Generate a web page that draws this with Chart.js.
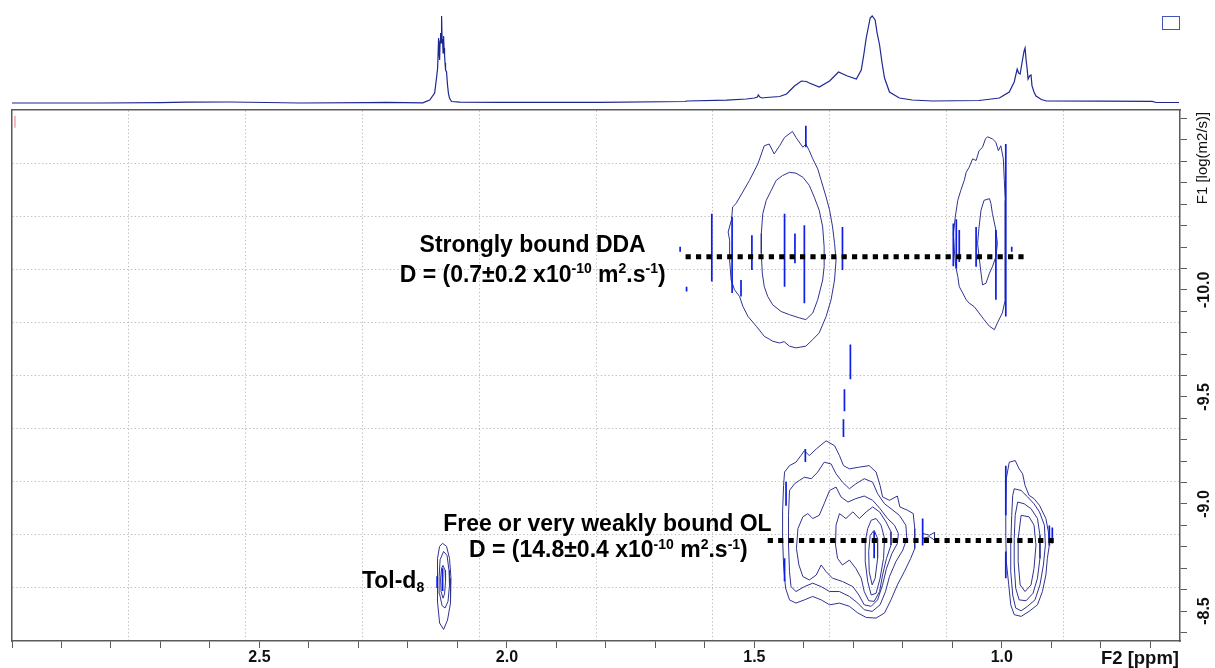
<!DOCTYPE html>
<html>
<head>
<meta charset="utf-8">
<script src="https://cdn.jsdelivr.net/npm/chart.js@4.4.0/dist/chart.umd.min.js"></script>
<style>
  html, body { margin: 0; padding: 0; background: #fff; }
  #wrap { position: relative; width: 1215px; height: 668px; overflow: hidden; }
  #spec { position: absolute; left: 0; top: 0; }
  #dosy { position: absolute; left: 0; top: 109px; }
</style>
</head>
<body>
<div id="wrap">
  <canvas id="spec" width="1215" height="109"></canvas>
  <canvas id="dosy" width="1215" height="559"></canvas>
</div>
<script>
// ---- axis limits and labelled ticks ----
const f2Range = [0.64, 3.0];          // chemical shift, ppm (drawn high -> low)
const f1Range = [-10.84, -8.36];      // log D, log(m2/s)
const f2Labels = [1.0, 1.5, 2.0, 2.5];
const f1Labels = [-10.0, -9.5, -9.0, -8.5];

// ---- 1D projection on top: [ppm, intensity (a.u.)] ----
const projection = [
  [3.000,0],[2.822,0],[2.700,0.3],[2.647,0.8],[2.560,1],[2.485,0.5],[2.419,0],[2.283,0.3],[2.243,0.6],
  [2.170,0.2],[2.156,3],[2.146,10],[2.142,26],[2.140,35],[2.138,65],[2.137,50],[2.136,43],[2.135,62],
  [2.134,70],[2.133,60],[2.132,87],[2.131,64],[2.130,63],[2.129,50],[2.128,67],[2.127,55],[2.126,48],
  [2.125,40],[2.124,33],[2.122,31],[2.120,18],[2.118,9],[2.116,5],[2.112,1.5],[2.095,0.8],[2.015,0.6],
  [1.813,0.7],[1.640,1.5],[1.637,2],[1.556,2.8],[1.516,4],[1.500,5],[1.494,6],[1.492,8],[1.489,6],
  [1.484,5],[1.476,5.5],[1.449,6.5],[1.435,9],[1.419,17],[1.405,22],[1.395,21.5],[1.389,20],[1.369,16],
  [1.348,22],[1.330,31],[1.312,27],[1.294,24],[1.284,33],[1.279,48],[1.274,65],[1.266,85],[1.262,87],
  [1.256,83],[1.252,70],[1.247,58],[1.242,40],[1.237,25],[1.227,11],[1.207,5],[1.181,3],[1.141,2],
  [1.046,2.5],[1.005,5],[0.985,11],[0.975,21],[0.969,34],[0.966,30],[0.963,29],[0.959,41],[0.955,52],
  [0.953,55],[0.951,43],[0.949,35],[0.947,24],[0.944,27],[0.941,28],[0.939,17],[0.935,11],[0.931,7],
  [0.920,3.5],[0.910,2],[0.800,1.8],[0.696,1.6],[0.688,0.5],[0.642,0.5]
];

// ---- DOSY contours: [ppm, log D] ----
const ddaOuter14 = [
  [1.544,-10.387],[1.537,-10.403],[1.510,-10.511],[1.493,-10.588],[1.480,-10.673],[1.470,-10.681],
  [1.460,-10.635],[1.449,-10.673],[1.439,-10.712],[1.423,-10.740],[1.416,-10.712],[1.402,-10.666],
  [1.396,-10.681],[1.389,-10.650],[1.382,-10.612],[1.372,-10.565],[1.365,-10.511],[1.355,-10.433],
  [1.348,-10.372],[1.342,-10.294],[1.338,-10.217],[1.335,-10.139],[1.338,-10.046],[1.345,-9.954],
  [1.355,-9.876],[1.369,-9.799],[1.382,-9.768],[1.396,-9.737],[1.416,-9.729],[1.429,-9.737],
  [1.440,-9.758],[1.449,-9.752],[1.463,-9.760],[1.470,-9.770],[1.480,-9.783],[1.496,-9.830],
  [1.513,-9.876],[1.523,-9.922],[1.530,-9.969],[1.540,-10.000],[1.547,-10.046],[1.550,-10.139],
  [1.550,-10.232],[1.553,-10.270],[1.546,-10.330],[1.544,-10.387]
];
const ddaInner14 = [
  [1.429,-10.549],[1.443,-10.534],[1.456,-10.511],[1.466,-10.464],[1.476,-10.418],[1.483,-10.356],
  [1.486,-10.263],[1.486,-10.170],[1.484,-10.078],[1.480,-10.015],[1.473,-9.969],[1.463,-9.930],
  [1.446,-9.899],[1.429,-9.884],[1.409,-9.869],[1.396,-9.861],[1.382,-9.892],[1.372,-9.954],
  [1.362,-10.046],[1.359,-10.108],[1.359,-10.201],[1.362,-10.294],[1.369,-10.372],[1.379,-10.433],
  [1.389,-10.488],[1.402,-10.526],[1.416,-10.545],[1.429,-10.549]
];
const ddaOuter10 = [
  [1.029,-10.715],[1.019,-10.705],[1.012,-10.689],[1.007,-10.650],[1.002,-10.673],[0.997,-10.612],
  [0.995,-10.511],[0.993,-10.418],[0.993,-10.263],[0.993,-10.108],[0.993,-9.954],[0.999,-9.892],
  [1.009,-9.845],[1.015,-9.814],[1.025,-9.830],[1.036,-9.861],[1.046,-9.892],[1.056,-9.922],
  [1.066,-9.938],[1.072,-9.954],[1.079,-9.985],[1.086,-10.015],[1.089,-10.062],[1.093,-10.108],
  [1.096,-10.186],[1.098,-10.263],[1.094,-10.341],[1.089,-10.418],[1.083,-10.464],[1.076,-10.511],
  [1.072,-10.549],[1.066,-10.573],[1.059,-10.612],[1.052,-10.604],[1.046,-10.650],[1.039,-10.666],
  [1.033,-10.705],[1.029,-10.715]
];
const ddaInner10 = [
  [1.025,-10.426],[1.036,-10.418],[1.042,-10.372],[1.046,-10.294],[1.049,-10.217],[1.046,-10.155],
  [1.042,-10.078],[1.039,-10.023],[1.032,-10.031],[1.025,-10.078],[1.019,-10.108],[1.012,-10.155],
  [1.009,-10.217],[1.012,-10.279],[1.019,-10.356],[1.022,-10.403],[1.025,-10.426]
];
const olLevel1 = [
  [1.439,-9.149],[1.429,-9.179],[1.416,-9.195],[1.406,-9.226],[1.399,-9.249],[1.389,-9.226],
  [1.375,-9.257],[1.355,-9.295],[1.338,-9.272],[1.328,-9.226],[1.320,-9.179],[1.308,-9.164],
  [1.288,-9.172],[1.268,-9.179],[1.254,-9.149],[1.246,-9.086],[1.241,-9.033],[1.227,-9.017],
  [1.211,-9.037],[1.206,-8.986],[1.190,-8.970],[1.179,-8.955],[1.176,-8.885],[1.176,-8.792],
  [1.184,-8.746],[1.197,-8.684],[1.211,-8.622],[1.224,-8.552],[1.237,-8.491],[1.254,-8.467],
  [1.274,-8.470],[1.291,-8.491],[1.308,-8.522],[1.328,-8.537],[1.348,-8.529],[1.365,-8.552],
  [1.382,-8.568],[1.399,-8.552],[1.416,-8.537],[1.429,-8.552],[1.437,-8.607],[1.441,-8.715],
  [1.443,-8.839],[1.443,-8.963],[1.441,-9.086],[1.439,-9.149]
];
const olLevel2 = [
  [1.429,-9.063],[1.419,-9.094],[1.409,-9.110],[1.399,-9.125],[1.385,-9.118],[1.372,-9.149],
  [1.359,-9.195],[1.345,-9.187],[1.335,-9.141],[1.322,-9.102],[1.308,-9.071],[1.295,-9.094],
  [1.278,-9.118],[1.261,-9.102],[1.251,-9.048],[1.237,-9.001],[1.224,-8.978],[1.207,-8.947],
  [1.194,-8.901],[1.192,-8.839],[1.200,-8.785],[1.214,-8.731],[1.227,-8.661],[1.235,-8.591],
  [1.246,-8.529],[1.262,-8.498],[1.278,-8.506],[1.291,-8.537],[1.308,-8.568],[1.328,-8.591],
  [1.348,-8.591],[1.365,-8.614],[1.382,-8.630],[1.399,-8.614],[1.416,-8.591],[1.426,-8.614],
  [1.429,-8.684],[1.431,-8.808],[1.431,-8.947],[1.429,-9.063]
];
const olLevel3 = [
  [1.412,-8.885],[1.402,-8.940],[1.392,-8.955],[1.382,-8.932],[1.369,-8.947],[1.359,-9.001],
  [1.348,-9.063],[1.335,-9.079],[1.325,-9.033],[1.311,-9.009],[1.295,-9.025],[1.278,-9.037],
  [1.261,-9.017],[1.246,-8.978],[1.231,-8.932],[1.217,-8.901],[1.209,-8.862],[1.211,-8.816],
  [1.222,-8.769],[1.233,-8.699],[1.241,-8.622],[1.251,-8.552],[1.264,-8.522],[1.278,-8.529],
  [1.289,-8.575],[1.301,-8.614],[1.322,-8.638],[1.342,-8.653],[1.355,-8.684],[1.365,-8.715],
  [1.375,-8.668],[1.389,-8.645],[1.402,-8.661],[1.410,-8.715],[1.415,-8.792],[1.412,-8.885]
];
const olLevel4 = [
  [1.335,-8.901],[1.328,-8.955],[1.315,-8.932],[1.301,-8.963],[1.288,-8.932],[1.274,-8.963],
  [1.261,-8.986],[1.247,-8.963],[1.234,-8.916],[1.224,-8.870],[1.224,-8.808],[1.233,-8.746],
  [1.241,-8.668],[1.247,-8.591],[1.258,-8.545],[1.269,-8.548],[1.278,-8.591],[1.284,-8.653],
  [1.295,-8.699],[1.308,-8.738],[1.322,-8.715],[1.332,-8.746],[1.336,-8.808],[1.335,-8.901]
];
const olLevel5 = [
  [1.254,-8.932],[1.244,-8.901],[1.237,-8.839],[1.239,-8.746],[1.246,-8.653],[1.254,-8.583],
  [1.264,-8.575],[1.271,-8.638],[1.276,-8.731],[1.276,-8.824],[1.271,-8.885],[1.264,-8.924],
  [1.254,-8.932]
];
const olLevel6 = [
  [1.258,-8.877],[1.251,-8.839],[1.251,-8.746],[1.256,-8.653],[1.262,-8.622],[1.268,-8.684],
  [1.269,-8.777],[1.266,-8.854],[1.258,-8.877]
];
const olLoop = [
  [1.160,-8.862],[1.146,-8.854],[1.136,-8.867],[1.136,-8.831],[1.146,-8.847],[1.160,-8.839],[1.160,-8.862]
];
const ol095Level1 = [
  [0.985,-9.195],[0.973,-9.203],[0.965,-9.164],[0.958,-9.141],[0.953,-9.086],[0.945,-9.040],
  [0.935,-9.025],[0.924,-8.994],[0.911,-8.932],[0.906,-8.870],[0.904,-8.808],[0.908,-8.746],
  [0.911,-8.668],[0.918,-8.591],[0.928,-8.529],[0.945,-8.498],[0.961,-8.475],[0.975,-8.483],
  [0.982,-8.529],[0.986,-8.622],[0.991,-8.731],[0.992,-8.854],[0.992,-8.994],[0.991,-9.118],
  [0.985,-9.195]
];
const ol095Level2 = [
  [0.975,-9.071],[0.961,-9.063],[0.948,-9.033],[0.935,-9.001],[0.924,-8.963],[0.914,-8.901],
  [0.912,-8.808],[0.916,-8.715],[0.923,-8.622],[0.933,-8.552],[0.948,-8.522],[0.961,-8.501],
  [0.972,-8.514],[0.978,-8.575],[0.982,-8.684],[0.982,-8.808],[0.980,-8.947],[0.978,-9.040],
  [0.975,-9.071]
];
const ol095Level3 = [
  [0.968,-9.009],[0.955,-9.001],[0.941,-8.978],[0.928,-8.932],[0.923,-8.854],[0.923,-8.746],
  [0.928,-8.653],[0.937,-8.583],[0.951,-8.548],[0.965,-8.552],[0.972,-8.607],[0.975,-8.715],
  [0.975,-8.839],[0.973,-8.947],[0.968,-9.009]
];
const ol095Level4 = [
  [0.961,-8.947],[0.945,-8.940],[0.935,-8.901],[0.931,-8.808],[0.935,-8.699],[0.941,-8.622],
  [0.953,-8.591],[0.963,-8.622],[0.967,-8.731],[0.967,-8.839],[0.961,-8.947]
];
const tolLevel1 = [
  [2.130,-8.816],[2.122,-8.802],[2.116,-8.746],[2.113,-8.653],[2.114,-8.537],[2.120,-8.458],
  [2.128,-8.414],[2.136,-8.444],[2.140,-8.537],[2.1405,-8.653],[2.140,-8.746],[2.136,-8.802],[2.130,-8.816]
];
const tolLevel2 = [
  [2.128,-8.778],[2.121,-8.760],[2.117,-8.690],[2.116,-8.621],[2.119,-8.545],[2.125,-8.514],
  [2.131,-8.525],[2.136,-8.580],[2.137,-8.660],[2.135,-8.740],[2.128,-8.778]
];
const tolLevel3 = [
  [2.129,-8.713],[2.125,-8.690],[2.124,-8.640],[2.126,-8.580],[2.129,-8.560],[2.133,-8.590],
  [2.134,-8.650],[2.132,-8.700],[2.129,-8.713]
];

// ---- narrow single-column features: [ppm, log D from, log D to] ----
const ridgeSpikes = [
  [1.586,-10.356,-10.039],[1.545,-10.341,-9.985],[1.527,-10.046,-9.969],[1.505,-10.255,-10.093],
  [1.439,-10.356,-10.015],[1.418,-10.263,-10.124],[1.399,-10.302,-9.938],[1.396,-10.766,-10.666],
  [1.322,-10.294,-10.093],[1.650,-10.201,-10.178],[1.637,-10.015,-9.992],[0.992,-10.681,-9.876],
  [1.098,-10.310,-10.110],[1.092,-10.330,-10.100],[1.086,-10.280,-10.130],[1.052,-10.294,-10.108],
  [1.012,-10.279,-9.954],[0.980,-10.201,-10.178],
  [1.306,-9.745,-9.582],[1.318,-9.536,-9.433],[1.320,-9.396,-9.313],
  [1.436,-9.104,-8.992],[1.439,-8.746,-8.639],[1.397,-9.257,-9.196],[1.258,-8.871,-8.746],
  [1.160,-8.932,-8.806],[0.992,-9.179,-8.947],[0.992,-8.778,-8.653],[0.904,-8.899,-8.806],
  [0.898,-8.890,-8.815],
  [2.130,-8.700,-8.593],[2.141,-8.662,-8.607]
];
const artefactSpikes = [[2.994,-10.813,-10.757]];

// ---- fitted diffusion coefficients (x1e-10 m2/s) and guide-line spans in ppm ----
const diffusionD = [0.7, 14.8];
const guideSpans = [[1.639, 0.951], [1.473, 0.886]];

// ---- styling ----
const FONT = '"Liberation Sans", Arial, Helvetica, sans-serif';
const contourColor = '#2f3391';
const spikeColor = '#0d1ee6';
const frameColor = '#5a5a5a';
const gridColor = '#bcbcbc';

const toPts = arr => arr.map(([x, y]) => ({ x, y }));
const spikePts = arr => arr.flatMap(([x, a, b]) => [{ x, y: a }, { x, y: b }, { x, y: null }]);
const isLabelled = (v, list) => list.some(l => Math.abs(v - l) < 1e-6);

// ---- top: 1D projection ----
const frameIcon = {
  id: 'frameIcon',
  afterDraw(chart) {
    const { ctx, chartArea } = chart;
    ctx.save();
    ctx.strokeStyle = '#4455b8';
    ctx.lineWidth = 1;
    ctx.strokeRect(chartArea.right - 17.5, chartArea.top + 0.5, 17, 13);
    ctx.restore();
  }
};

new Chart(document.getElementById('spec'), {
  type: 'scatter',
  data: {
    datasets: [{
      data: toPts(projection),
      showLine: true,
      pointRadius: 0,
      borderColor: '#1d2790',
      borderWidth: 1.2,
      tension: 0,
      clip: 4
    }]
  },
  options: {
    responsive: false,
    animation: false,
    devicePixelRatio: 1,
    events: [],
    layout: { padding: { left: 12, right: 35, top: 16, bottom: 6 } },
    scales: {
      x: { type: 'linear', reverse: true, min: f2Range[0], max: f2Range[1], display: false },
      y: { type: 'linear', min: 0, max: 87, display: false }
    },
    plugins: { legend: { display: false }, tooltip: { enabled: false } }
  },
  plugins: [frameIcon]
});

// ---- bottom: DOSY map ----
const richText = {
  id: 'richText',
  afterDatasetsDraw(chart, args, opts) {
    const { ctx, scales } = chart;
    opts.items.forEach(it => {
      const base = it.size;
      const segs = it.parts.map(([t, kind]) => ({
        t, kind,
        font: `bold ${kind ? Math.round(base * 0.6) : base}px ${FONT}`
      }));
      ctx.save();
      let total = 0;
      segs.forEach(s => { ctx.font = s.font; s.w = ctx.measureText(s.t).width; total += s.w; });
      let px = scales.x.getPixelForValue(it.x);
      const py = scales.y.getPixelForValue(it.y);
      if (it.align === 'center') px -= total / 2;
      else if (it.align === 'right') px -= total;
      ctx.fillStyle = '#000';
      ctx.textBaseline = 'alphabetic';
      ctx.textAlign = 'left';
      segs.forEach(s => {
        ctx.font = s.font;
        const dy = s.kind === 'sup' ? -base * 0.38 : s.kind === 'sub' ? base * 0.18 : 0;
        ctx.fillText(s.t, px, py + dy);
        px += s.w;
      });
      ctx.restore();
    });
  }
};

const axisNames = {
  id: 'axisNames',
  afterDraw(chart) {
    const { ctx, chartArea } = chart;
    ctx.save();
    ctx.fillStyle = '#111';
    ctx.font = `bold 18.5px ${FONT}`;
    ctx.textAlign = 'right';
    ctx.textBaseline = 'middle';
    ctx.fillText('F2 [ppm]', chartArea.right - 1, chartArea.bottom + 18);
    ctx.translate(chartArea.right + 23, chartArea.top + 48);
    ctx.rotate(-Math.PI / 2);
    ctx.font = `15px ${FONT}`;
    ctx.textAlign = 'center';
    ctx.fillText('F1 [log(m2/s)]', 0, 0);
    ctx.restore();
  }
};

const guideSets = guideSpans.map((span, i) => {
  const logD = Math.log10(diffusionD[i] * 1e-10);
  return {
    data: [{ x: span[0], y: logD }, { x: span[1], y: logD }],
    showLine: true, pointRadius: 0, borderColor: '#000', borderWidth: 5,
    borderDash: [5.2, 5.2], borderCapStyle: 'butt', tension: 0
  };
});

const spikeSets = [
  { data: spikePts(ridgeSpikes), showLine: true, spanGaps: false, pointRadius: 0,
    borderColor: spikeColor, borderWidth: 1.7, tension: 0 },
  { data: spikePts(artefactSpikes), showLine: true, spanGaps: false, pointRadius: 0,
    borderColor: '#f2a4a4', borderWidth: 1.5, tension: 0 }
];

const contours = [
  ddaOuter14, ddaInner14, ddaOuter10, ddaInner10,
  olLevel1, olLevel2, olLevel3, olLevel4, olLevel5, olLevel6, olLoop,
  ol095Level1, ol095Level2, ol095Level3, ol095Level4,
  tolLevel1, tolLevel2, tolLevel3
];
const contourSets = contours.map(c => ({
  data: toPts(c), showLine: true, pointRadius: 0,
  borderColor: contourColor, borderWidth: 1, tension: 0
}));

const screenGrid = (pos) => ({
  type: 'linear', position: pos, min: 0, max: 10,
  ticks: { display: false, stepSize: 1 },
  grid: {
    drawTicks: false,
    lineWidth: 1,
    color: c => (c.tick && (c.tick.value === 0 || c.tick.value === 10)) ? 'rgba(0,0,0,0)' : gridColor
  },
  border: { display: true, color: frameColor, width: 1.5, dash: [1.3, 2.4] }
});

new Chart(document.getElementById('dosy'), {
  type: 'scatter',
  data: { datasets: [...guideSets, ...spikeSets, ...contourSets] },
  options: {
    responsive: false,
    animation: false,
    devicePixelRatio: 1,
    events: [],
    layout: { padding: { left: 12, right: 0, top: 1, bottom: 0 } },
    scales: {
      x: {
        type: 'linear', position: 'bottom', reverse: true,
        min: f2Range[0], max: f2Range[1],
        ticks: {
          stepSize: 0.1, autoSkip: false, includeBounds: false,
          minRotation: 0, maxRotation: 0, padding: 2, color: '#111',
          font: { family: FONT, size: 16, weight: 'bold', lineHeight: 1 },
          callback: v => isLabelled(v, f2Labels) ? v.toFixed(1) : ''
        },
        grid: { drawOnChartArea: false, drawTicks: true, tickLength: 7, tickColor: frameColor, tickWidth: 1 },
        border: { display: true, color: frameColor, width: 1.5 },
        afterFit: s => { s.paddingLeft = 0; s.paddingRight = 0; }
      },
      y: {
        type: 'linear', position: 'right', reverse: true,
        min: f1Range[0], max: f1Range[1],
        ticks: {
          stepSize: 0.1, autoSkip: false, includeBounds: false,
          minRotation: 90, maxRotation: 90, crossAlign: 'center', padding: -1, color: '#111',
          font: { family: FONT, size: 16, weight: 'bold', lineHeight: 1 },
          callback: v => isLabelled(v, f1Labels) ? v.toFixed(1) : ''
        },
        grid: { drawOnChartArea: false, drawTicks: true, tickLength: 7, tickColor: frameColor, tickWidth: 1 },
        border: { display: true, color: frameColor, width: 1.5 },
        afterFit: s => { s.width = 35; s.paddingTop = 0; s.paddingBottom = 0; }
      },
      gx: screenGrid('top'),
      gy: screenGrid('left')
    },
    plugins: {
      legend: { display: false },
      tooltip: { enabled: false },
      richText: {
        items: [
          { x: 1.948, y: -10.176, size: 23, align: 'center', parts: [['Strongly bound DDA']] },
          { x: 1.948, y: -10.037, size: 23, align: 'center',
            parts: [['D = (0.7\u00B10.2 x10'], ['-10', 'sup'], [' m'], ['2', 'sup'], ['.s'], ['-1', 'sup'], [')']] },
          { x: 1.797, y: -8.876, size: 23, align: 'center', parts: [['Free or very weakly bound OL']] },
          { x: 1.795, y: -8.751, size: 23, align: 'center',
            parts: [['D = (14.8\u00B10.4 x10'], ['-10', 'sup'], [' m'], ['2', 'sup'], ['.s'], ['-1', 'sup'], [')']] },
          { x: 2.293, y: -8.607, size: 23, align: 'left', parts: [['Tol-d'], ['8', 'sub']] }
        ]
      }
    }
  },
  plugins: [richText, axisNames]
});
</script>
</body>
</html>
